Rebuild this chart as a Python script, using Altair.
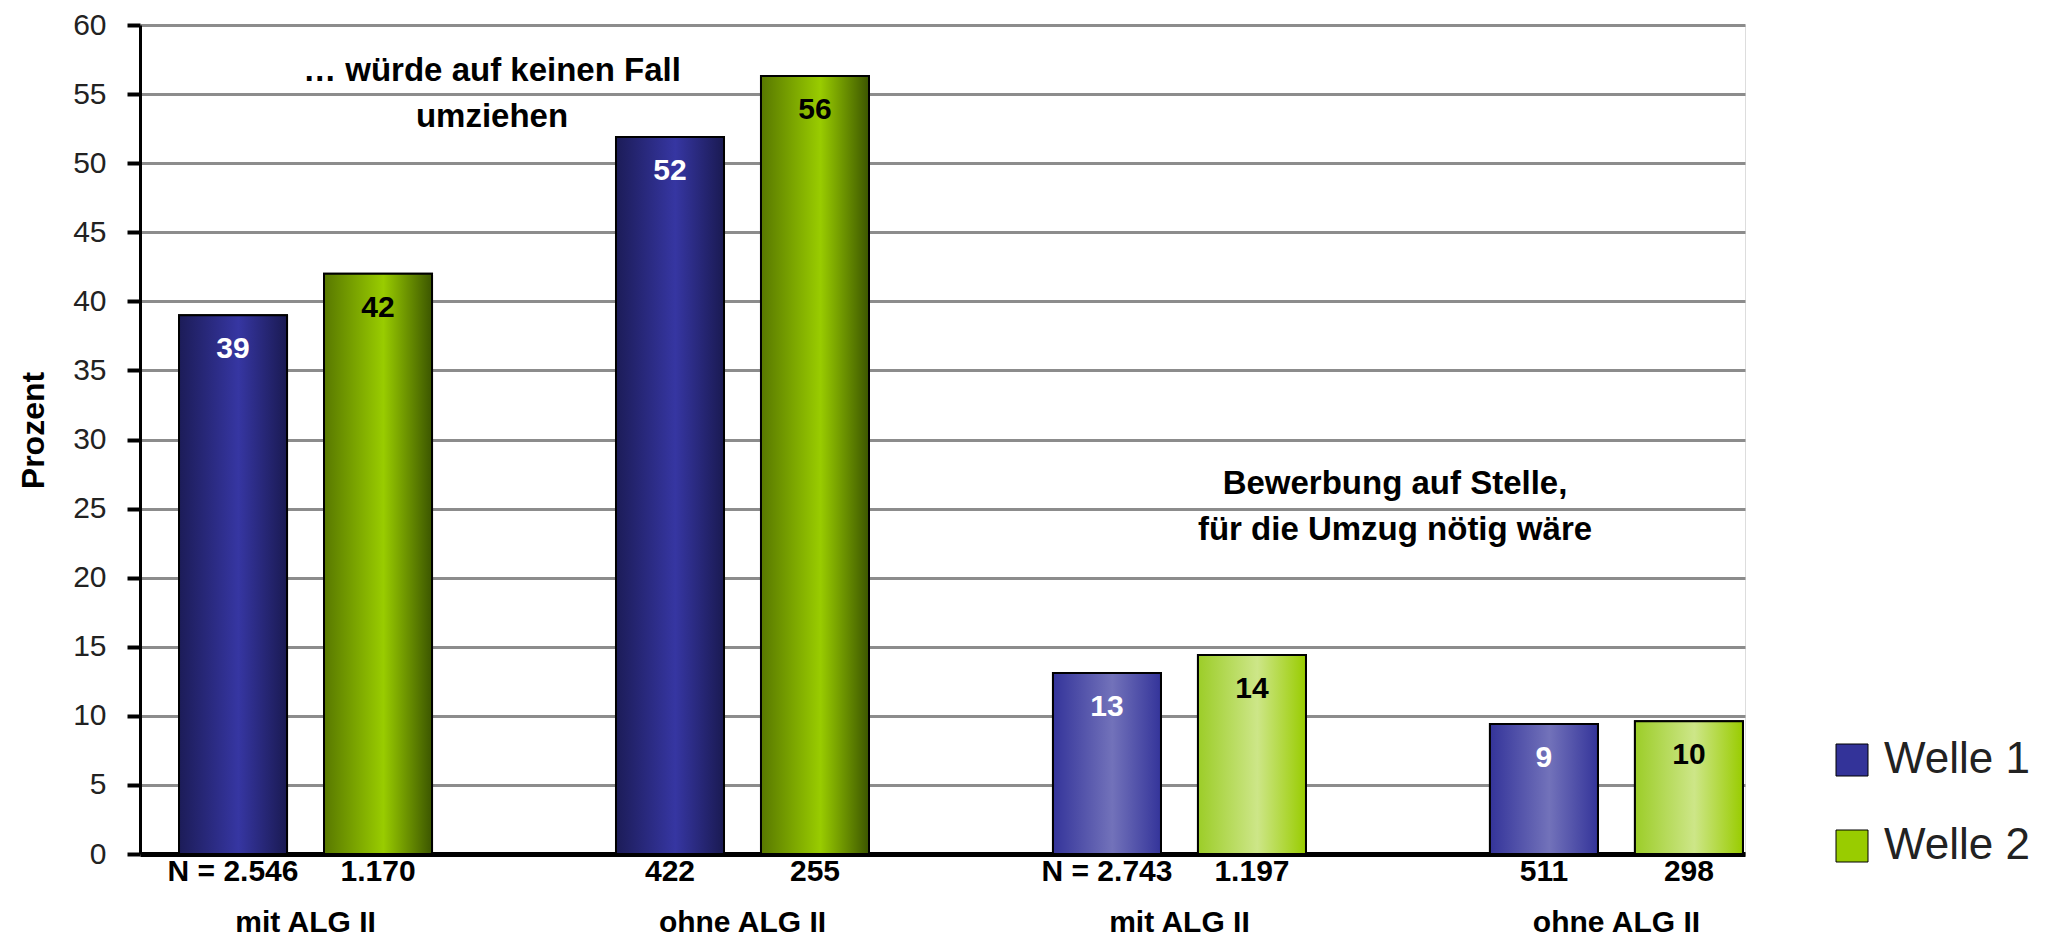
import json
import altair as alt
import pandas as pd

# ---- data ----
groups = [0, 1, 2, 3]
group_labels = ["mit ALG II", "ohne ALG II", "mit ALG II", "ohne ALG II"]
shade = ["dark", "dark", "light", "light"]
welle = ["Welle 1", "Welle 2"]
values_w1 = [39.0, 51.9, 13.1, 9.4]
values_w2 = [42.0, 56.3, 14.4, 9.6]
labels_w1 = ["39", "52", "13", "9"]
labels_w2 = ["42", "56", "14", "10"]
n_w1 = ["N = 2.546", "422", "N = 2.743", "511"]
n_w2 = ["1.170", "255", "1.197", "298"]
y_ticks = list(range(0, 61, 5))

annot_text = [["… würde auf keinen Fall", "umziehen"],
              ["Bewerbung auf Stelle,", "für die Umzug nötig wäre"]]
annot_y = [56.7, 26.8]

rows = []
for i in groups:
    for w, vals, labs, ns in [(welle[0], values_w1, labels_w1, n_w1),
                              (welle[1], values_w2, labels_w2, n_w2)]:
        rows.append(dict(group=i, welle=w, value=vals[i], label=labs[i],
                         n=ns[i], shade=shade[i]))
df = pd.DataFrame(rows)

FONT = "Liberation Sans, Arial, sans-serif"
W, H = 1605, 829


def grad(l, c, r):
    return {"gradient": "linear", "x1": 0, "x2": 1, "y1": 0, "y2": 0,
            "stops": [{"offset": 0, "color": l},
                      {"offset": 0.55, "color": c},
                      {"offset": 1, "color": r}]}


grads = {
    ("Welle 1", "dark"): grad("#1c1c58", "#3636a2", "#1a1a52"),
    ("Welle 2", "dark"): grad("#587800", "#99cc00", "#3c5600"),
    ("Welle 1", "light"): grad("#34349a", "#7272ba", "#34349a"),
    ("Welle 2", "light"): grad("#9ccd28", "#cde688", "#99cc00"),
}

label_expr = json.dumps(group_labels) + "[datum.value]"

x_enc = alt.X("group:O",
              scale=alt.Scale(paddingInner=0.421, paddingOuter=0.047, align=0.95),
              axis=alt.Axis(title=None, labelExpr=label_expr, labelAngle=0,
                            ticks=False, tickSize=0, domainColor="black",
                            domainWidth=5, labelPadding=53, labelFontSize=30,
                            labelFontWeight="bold", labelColor="black",
                            labelFont=FONT))
xo_enc = alt.XOffset("welle:N", scale=alt.Scale(paddingInner=0.255, paddingOuter=0))
y_enc = alt.Y("value:Q",
              scale=alt.Scale(domain=[0, 60], nice=False),
              axis=alt.Axis(values=y_ticks, title="Prozent", titleFontSize=32,
                            titleFont=FONT, titleFontWeight="bold",
                            titleColor="black", titleAngle=270,
                            titleX=-107, titleY=405, titleAlign="center",
                            titleBaseline="middle",
                            labelFontSize=30, labelFont=FONT, labelColor="#222222",
                            labelPadding=21, tickSize=13, tickColor="black",
                            tickWidth=4, domainColor="black", domainWidth=3,
                            gridColor="#8c8c8c", gridWidth=3, gridOpacity=1))

base = alt.Chart(df).encode(x=x_enc, xOffset=xo_enc, y=y_enc)

bars = base.mark_bar(stroke="black", strokeWidth=2).encode(
    color=alt.Color("welle:N",
                    scale=alt.Scale(domain=welle, range=["#333399", "#99cc00"]),
                    legend=alt.Legend(title=None, orient="none", legendX=1690,
                                      legendY=713, symbolType="square",
                                      symbolSize=1024, symbolStrokeColor="black",
                                      symbolStrokeWidth=1, labelFontSize=44,
                                      labelFont=FONT, labelColor="#222222",
                                      rowPadding=42, labelOffset=10))
)

grad_layers = []
for (w, s), g in grads.items():
    grad_layers.append(
        base.transform_filter((alt.datum.welle == w) & (alt.datum.shade == s))
        .mark_bar(fill=g, stroke="black", strokeWidth=2)
    )

value_labels = base.mark_text(baseline="middle", dy=34, fontSize=30,
                              fontWeight="bold", font=FONT).encode(
    text="label:N",
    color=alt.condition(alt.datum.welle == "Welle 1", alt.value("white"),
                        alt.value("black")),
)

n_labels = base.mark_text(baseline="top", dy=3, fontSize=30, fontWeight="bold",
                          font=FONT, color="black").encode(
    y=alt.datum(0), text="n:N")

adf = pd.DataFrame({"text": annot_text, "y": annot_y, "px": [352, 1255]})
annots = alt.Chart(adf).mark_text(fontSize=33, fontWeight="bold", font=FONT,
                                  color="black", baseline="middle",
                                  lineHeight=46).encode(
    x=alt.X("px:Q", scale=None), y=alt.Y("y:Q"), text="text")

chart = alt.layer(bars, *grad_layers, value_labels, n_labels, annots).properties(
    width=W, height=H,
    autosize=alt.AutoSizeParams(type="none"),
    padding={"left": 140, "top": 25, "right": 301, "bottom": 86},
).configure_view(stroke=None).configure(background="white")

chart.save("out.html", embed_options={"renderer": "svg", "actions": False})
